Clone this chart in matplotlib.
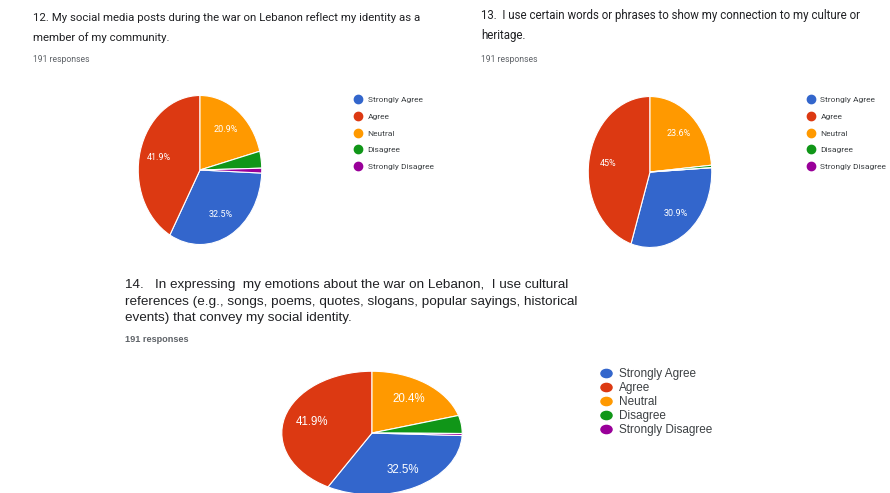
import matplotlib
matplotlib.use('Agg')
import matplotlib.pyplot as plt
from matplotlib.lines import Line2D
from matplotlib.path import Path
from matplotlib.transforms import Affine2D

# Data (counts out of 191 responses, read from the percentages)
categories = ['Strongly Agree', 'Agree', 'Neutral', 'Disagree', 'Strongly Disagree']
colors = ['#3366cc', '#dc3912', '#ff9900', '#109618', '#990099']

q12_counts = [62, 80, 40, 7, 2]
q13_counts = [59, 86, 45, 1, 0]
q14_counts = [62, 80, 39, 9, 1]

q12_title = ['12. My social media posts during the war on Lebanon reflect my identity as a',
             'member of my community.']
q13_title = ['13.  I use certain words or phrases to show my connection to my culture or',
             'heritage.']
q14_title = ['14.   In expressing  my emotions about the war on Lebanon,  I use cultural',
             'references (e.g., songs, poems, quotes, slogans, popular sayings, historical',
             'events) that convey my social identity.']
responses = '191 responses'

W, H = 890, 493
fig = plt.figure(figsize=(W / 100, H / 100), dpi=100)
fig.patch.set_facecolor('white')


def fx(x):
    return x / W


def fy(y):
    return 1 - y / H


def pct_label(v):
    s = '{:.1f}'.format(v)
    if s.endswith('.0'):
        s = s[:-2]
    return s + '%'


def draw_pie(counts, cx, cy, rx, ry, fontsize, family):
    ax = fig.add_axes([fx(cx - rx), fy(cy + ry), 2 * rx / W, 2 * ry / H])
    total = sum(counts)
    # Neutral slice starts at 12 o'clock, going clockwise
    before = sum(counts[2:]) / total
    start = 90 - 360 * before
    wedges, texts, autotexts = ax.pie(
        counts, colors=colors, startangle=start, counterclock=False,
        autopct=lambda p: pct_label(p) if p > 8 else '', pctdistance=0.69,
        wedgeprops=dict(edgecolor='white', linewidth=0.8),
        textprops=dict(color='white', fontsize=fontsize, family=family))
    ax.set_aspect('auto')
    ax.set_xlim(-1.02, 1.02)
    ax.set_ylim(-1.02, 1.02)
    ax.axis('off')
    return ax


def draw_legend(x, y, fontsize, spacing, family, msize, pad, stretch=1.0):
    marker = Path.unit_circle().transformed(Affine2D().scale(stretch, 1.0))
    handles = [Line2D([], [], marker=marker, linestyle='none', markersize=msize,
                      markerfacecolor=c, markeredgecolor=c) for c in colors]
    leg = fig.legend(handles, categories, loc='upper left',
                     bbox_to_anchor=(fx(x), fy(y)), frameon=False,
                     prop=dict(size=fontsize, family=family),
                     handlelength=0.6, handletextpad=pad,
                     labelspacing=spacing, borderpad=0, borderaxespad=0)
    for t in leg.get_texts():
        t.set_color('#3c4043')


def draw_title(lines, x, y, dy, size, family, ry, rsize, rweight='normal'):
    for i, line in enumerate(lines):
        fig.text(fx(x), fy(y + i * dy), line, fontsize=size, family=family,
                 color='#202124', va='center', ha='left')
    fig.text(fx(x), fy(ry), responses, fontsize=rsize, family=family,
             color='#5f6368', va='center', ha='left', weight=rweight)


# Question 12
draw_title(q12_title, 33, 18, 20, 8.2, 'Roboto', 60, 6.2)
draw_pie(q12_counts, 200, 170, 63, 76, 6.5, 'Roboto')
draw_legend(355, 96, 6.0, 1.2, 'Roboto', 6, 0.9)

# Question 13
draw_title(q13_title, 481, 15, 20, 8.3, 'Roboto', 59, 6.2)
draw_pie(q13_counts, 650, 172, 63, 77, 6.5, 'Roboto')
draw_legend(808, 96, 6.0, 1.2, 'Roboto', 6, 0.9)

# Question 14
draw_title(q14_title, 125, 285, 16.5, 9.7, 'Liberation Sans', 339, 6.6, 'bold')
draw_pie(q14_counts, 372, 433, 92, 63, 8.3, 'Liberation Sans')
draw_legend(602, 368, 8.5, 0.17, 'Liberation Sans', 8, 0.8, 1.35)

fig.savefig('out.png', dpi=100)
